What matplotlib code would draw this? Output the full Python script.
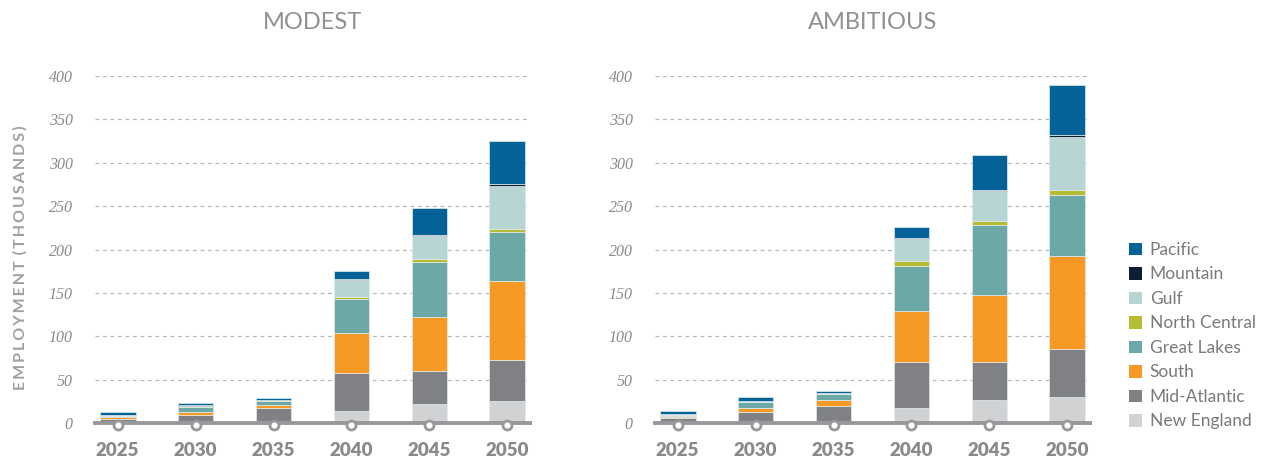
import matplotlib
matplotlib.use("Agg")
import matplotlib.pyplot as plt
import numpy as np

years = ["2025", "2030", "2035", "2040", "2045", "2050"]
regions = ["New England", "Mid-Atlantic", "South", "Great Lakes",
           "North Central", "Gulf", "Mountain", "Pacific"]
colors = ["#d1d2d4", "#808184", "#f69a25", "#6ca8a5",
          "#b5bd35", "#b6d5d3", "#0d1f33", "#036399"]

# Modest scenario (thousands)
modest_new_england   = [1.5, 2.5, 2.5, 14.0, 21.5, 25.0]
modest_mid_atlantic  = [3.5, 6.5, 14.5, 43.5, 38.0, 47.5]
modest_south         = [1.5, 4.0, 3.5, 46.0, 62.5, 91.0]
modest_great_lakes   = [1.5, 5.0, 5.0, 39.5, 63.5, 57.0]
modest_north_central = [0.3, 0.5, 0.5, 2.0, 4.0, 3.5]
modest_gulf          = [0.8, 1.5, 0.7, 20.0, 25.5, 49.5]
modest_mountain      = [0.2, 0.3, 0.3, 1.0, 1.5, 1.5]
modest_pacific       = [3.0, 2.5, 2.0, 9.0, 31.5, 49.5]

# Ambitious scenario (thousands)
amb_new_england   = [1.5, 2.0, 2.0, 17.0, 26.0, 30.0]
amb_mid_atlantic  = [4.0, 10.8, 17.5, 53.0, 44.0, 55.0]
amb_south         = [1.5, 4.2, 6.5, 59.0, 77.0, 108.0]
amb_great_lakes   = [1.5, 7.0, 7.0, 52.5, 81.0, 69.5]
amb_north_central = [0.5, 0.5, 0.5, 5.5, 5.0, 6.5]
amb_gulf          = [1.5, 1.0, 1.0, 25.5, 35.0, 61.0]
amb_mountain      = [0.3, 0.3, 0.3, 1.0, 1.0, 1.5]
amb_pacific       = [3.5, 3.8, 2.0, 12.5, 40.5, 58.5]

modest = [modest_new_england, modest_mid_atlantic, modest_south, modest_great_lakes,
          modest_north_central, modest_gulf, modest_mountain, modest_pacific]
ambitious = [amb_new_england, amb_mid_atlantic, amb_south, amb_great_lakes,
             amb_north_central, amb_gulf, amb_mountain, amb_pacific]

titles = ["MODEST", "AMBITIOUS"]
yticks = [0, 50, 100, 150, 200, 250, 300, 350, 400]
ylabel = "EMPLOYMENT (THOUSANDS)"

W, H = 1270, 462
fig = plt.figure(figsize=(W / 100, H / 100), dpi=100)

GRAY_TXT = "#8a8a8c"
axes_px = [(95, 530), (655, 1090)]
y_top, y_bot = 76, 423

for k, (data, title) in enumerate(zip([modest, ambitious], titles)):
    x0, x1 = axes_px[k]
    ax = fig.add_axes([x0 / W, 1 - y_bot / H, (x1 - x0) / W, (y_bot - y_top) / H])
    x = np.arange(len(years))
    bottom = np.zeros(len(years))
    for vals, col, name in zip(data, colors, regions):
        ax.bar(x, vals, width=0.46, bottom=bottom, color=col,
               edgecolor="#e4ebec", linewidth=0.5, label=name, zorder=3)
        bottom += np.array(vals)
    ax.set_xlim(-0.29, 5.29)
    ax.set_ylim(0, 400)
    for s in ax.spines.values():
        s.set_visible(False)
    ax.set_yticks(yticks)
    ax.set_yticklabels([str(v) for v in yticks], fontfamily="Liberation Serif",
                       fontstyle="italic", fontsize=11.5, color=GRAY_TXT)
    ax.tick_params(axis="y", length=0, pad=16)
    for v in yticks[1:]:
        ax.axhline(v, color="#b8b8b8", lw=0.9, ls=(0, (3, 3)), zorder=1)
    ax.axhline(0, color="#98989a", lw=2.8, zorder=4, clip_on=False)
    ax.plot(x, np.zeros(len(x)) - 2, "o", ms=6.5, mfc="white", mec="#98989a",
            mew=2, zorder=5, clip_on=False)
    ax.set_xticks(x)
    ax.set_xticklabels(years, fontfamily="Lato", fontweight="heavy",
                       fontsize=13.5, color=GRAY_TXT)
    ax.tick_params(axis="x", length=0, pad=14)
    ax.set_title(title, fontfamily="Lato", fontweight="normal", fontsize=17,
                 color="#909092", pad=34)
    if k == 0:
        spaced = "\u2009".join(ylabel).replace("\u2009 \u2009", "\u2009\u2009\u2009")
        ax.set_ylabel(spaced, family=["Lato", "DejaVu Sans"], fontweight="bold",
                      fontsize=11.5, color="#a0a0a2")
        ax.yaxis.set_label_coords(-(95 - 28) / 435, (423 - 258) / 347)
    else:
        handles, labels = ax.get_legend_handles_labels()
        leg = fig.legend(handles[::-1], labels[::-1], loc="upper left",
                         bbox_to_anchor=(1122 / W, 1 - 235 / H), frameon=False,
                         prop={"family": "Lato", "size": 12.5},
                         handlelength=0.75, handleheight=0.75, handletextpad=0.45,
                         labelspacing=0.49, borderaxespad=0)
        for t in leg.get_texts():
            t.set_color("#7a7a7c")
        for p in leg.get_patches():
            p.set_linewidth(0)

fig.savefig("out.png", dpi=100)
